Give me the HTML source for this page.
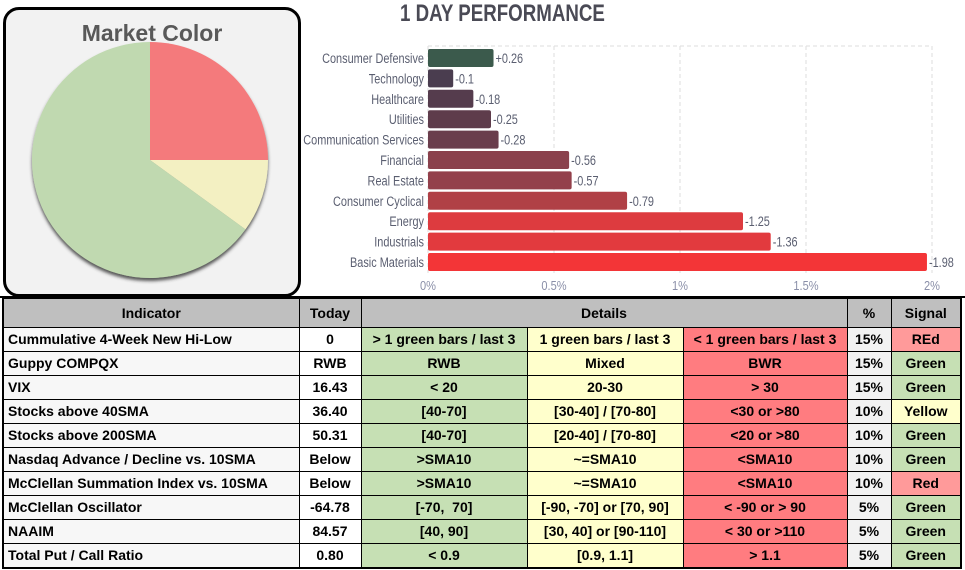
<!DOCTYPE html>
<html><head><meta charset="utf-8"><style>
body{margin:0;width:965px;height:570px;background:#fff;position:relative;overflow:hidden;font-family:"Liberation Sans",sans-serif}
#box{position:absolute;left:3px;top:7px;width:292px;height:284px;border:3px solid #000;border-radius:16px;background:#f2f2f2}
#sep{position:absolute;left:0;top:296px;width:965px;height:2px;background:#000}
table{position:absolute;left:2px;top:297px;border-collapse:collapse;border:2px solid #000;font-weight:bold;font-size:14px;color:#000}
td{border:1px solid #000;padding:0 4px;height:23px;text-align:center;white-space:nowrap;line-height:23px}
th{border:1px solid #000;height:26px;background:#bfbfbf;font-size:14px}
td.ind{text-align:left;background:#f7f7f7}
.g{background:#c6e0b4}.y{background:#ffffcc}.r{background:#ff7c80}.p{background:#f2f2f2}.rs{background:#ff9a9a}
</style></head><body>
<div id="box"></div>
<svg width="965" height="300" style="position:absolute;left:0;top:0">
<defs><filter id="sh"><feDropShadow dx="0" dy="3" stdDeviation="1.5" flood-color="#333" flood-opacity="0.8"/></filter></defs>
<text x="152" y="41" text-anchor="middle" font-size="23" font-weight="bold" fill="#595959" font-family="Liberation Sans">Market Color</text>
<g id="pie" filter="url(#sh)"></g>
<text x="400" y="21" font-size="24" font-weight="bold" fill="#4a4a55" font-family="Liberation Sans Narrow, Liberation Sans" transform="translate(400,0) scale(0.78,1) translate(-400,0)">1 DAY PERFORMANCE</text>
<g id="bars"></g>
</svg>
<div id="sep"></div>
<table>
<colgroup><col style="width:296px"><col style="width:62px"><col style="width:166px"><col style="width:156px"><col style="width:164px"><col style="width:44px"><col style="width:70px"></colgroup>
<tr><th>Indicator</th><th>Today</th><th colspan="3">Details</th><th>%</th><th>Signal</th></tr>
<tr><td class="ind">Cummulative 4-Week New Hi-Low</td><td>0</td><td class="g">&gt; 1 green bars / last 3</td><td class="y">1 green bars / last 3</td><td class="r">&lt; 1 green bars / last 3</td><td class="p">15%</td><td class="rs">REd</td></tr>
<tr><td class="ind">Guppy COMPQX</td><td>RWB</td><td class="g">RWB</td><td class="y">Mixed</td><td class="r">BWR</td><td class="p">15%</td><td class="g">Green</td></tr>
<tr><td class="ind">VIX</td><td>16.43</td><td class="g">&lt; 20</td><td class="y">20-30</td><td class="r">&gt; 30</td><td class="p">15%</td><td class="g">Green</td></tr>
<tr><td class="ind">Stocks above 40SMA</td><td>36.40</td><td class="g">[40-70]</td><td class="y">[30-40] / [70-80]</td><td class="r">&lt;30 or &gt;80</td><td class="p">10%</td><td class="y">Yellow</td></tr>
<tr><td class="ind">Stocks above 200SMA</td><td>50.31</td><td class="g">[40-70]</td><td class="y">[20-40] / [70-80]</td><td class="r">&lt;20 or &gt;80</td><td class="p">10%</td><td class="g">Green</td></tr>
<tr><td class="ind">Nasdaq Advance / Decline vs. 10SMA</td><td>Below</td><td class="g">&gt;SMA10</td><td class="y">~=SMA10</td><td class="r">&lt;SMA10</td><td class="p">10%</td><td class="g">Green</td></tr>
<tr><td class="ind">McClellan Summation Index vs. 10SMA</td><td>Below</td><td class="g">&gt;SMA10</td><td class="y">~=SMA10</td><td class="r">&lt;SMA10</td><td class="p">10%</td><td class="rs">Red</td></tr>
<tr><td class="ind">McClellan Oscillator</td><td>-64.78</td><td class="g">[-70,&nbsp; 70]</td><td class="y">[-90, -70] or [70, 90]</td><td class="r">&lt; -90 or &gt; 90</td><td class="p">5%</td><td class="g">Green</td></tr>
<tr><td class="ind">NAAIM</td><td>84.57</td><td class="g">[40, 90]</td><td class="y">[30, 40] or [90-110]</td><td class="r">&lt; 30 or &gt;110</td><td class="p">5%</td><td class="g">Green</td></tr>
<tr><td class="ind">Total Put / Call Ratio</td><td>0.80</td><td class="g">&lt; 0.9</td><td class="y">[0.9, 1.1]</td><td class="r">&gt; 1.1</td><td class="p">5%</td><td class="g">Green</td></tr>
</table>
<script>
const pieLabels=["Red","Yellow","Green"];
const pieValues=[25,10,65];
const pieColors=["#f47a7c","#f3f0c2","#c0d9b0"];
const sectors=["Consumer Defensive","Technology","Healthcare","Utilities","Communication Services","Financial","Real Estate","Consumer Cyclical","Energy","Industrials","Basic Materials"];
const perf=[0.26,-0.1,-0.18,-0.25,-0.28,-0.56,-0.57,-0.79,-1.25,-1.36,-1.98];
const barColors=["#3b5a4c","#4a3d4f","#553c4d","#5e3c4b","#6a3d4c","#8a414c","#93404b","#b04046","#dd3b3f","#e23a3e","#f33537"];
const ticks=[0,0.5,1,1.5,2];
const tickLabels=["0%","0.5%","1%","1.5%","2%"];
const NS="http://www.w3.org/2000/svg";
function mk(t,a,p){const e=document.createElementNS(NS,t);for(const k in a)e.setAttribute(k,a[k]);p.appendChild(e);return e;}
const pie=document.getElementById('pie');const cx=150,cy=160,R=118;
const tot=pieValues.reduce((a,b)=>a+b,0);let a0=-Math.PI/2;
pieValues.forEach((v,i)=>{const a1=a0+v/tot*2*Math.PI;const large=(a1-a0)>Math.PI?1:0;
const d=`M${cx},${cy} L${cx+R*Math.cos(a0)},${cy+R*Math.sin(a0)} A${R},${R} 0 ${large} 1 ${cx+R*Math.cos(a1)},${cy+R*Math.sin(a1)} Z`;
const p=mk('path',{d:d,fill:pieColors[i]},pie);

a0=a1;});
const g=document.getElementById('bars');const x0=428,sc=252,top0=49,step=20.4,bh=18;
const xs=v=>x0+v*sc;
ticks.forEach((t,i)=>{const l=mk('line',{x1:xs(t),x2:xs(t),y1:46,y2:273,stroke:'#ddd','stroke-dasharray':'4,3'},g);


const tx=mk('text',{x:xs(t),y:290,'text-anchor':'middle','font-size':13,fill:'#8a8fa8',transform:`translate(${xs(t)},0) scale(0.85,1) translate(${-xs(t)},0)`},g);tx.textContent=tickLabels[i];

});
mk('line',{x1:x0,x2:xs(2),y1:46,y2:46,stroke:'#ddd','stroke-dasharray':'4,3'},g);
sectors.forEach((s,i)=>{const y=top0+i*step;const w=Math.abs(perf[i])*sc;
const r=mk('rect',{x:x0,y:y,width:w,height:bh,rx:2,fill:barColors[i]},g);


const lb=mk('text',{x:x0-4,y:y+bh/2+5,'text-anchor':'end','font-size':14,fill:'#5a5e70',transform:`translate(${x0-4},0) scale(0.78,1) translate(${-(x0-4)},0)`},g);lb.textContent=s;


const vl=mk('text',{x:x0+w+2,y:y+bh/2+5,'font-size':14,fill:'#5a5e70',transform:`translate(${x0+w+2},0) scale(0.78,1) translate(${-(x0+w+2)},0)`},g);vl.textContent=(perf[i]>0?'+':'')+perf[i];

});
</script>
</body></html>
